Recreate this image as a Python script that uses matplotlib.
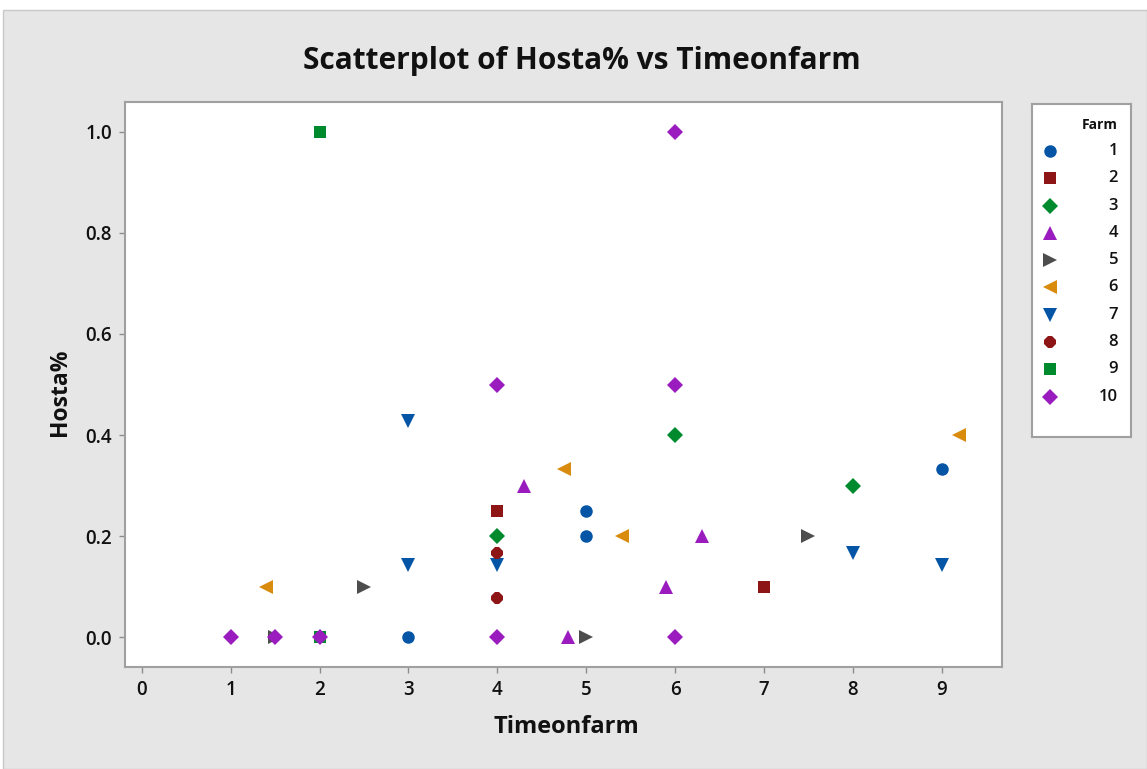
import matplotlib
matplotlib.use("Agg")
import matplotlib.pyplot as plt
from matplotlib.patches import Rectangle

plt.rcParams['font.family'] = ['Open Sans', 'DejaVu Sans']

farms = ["1", "2", "3", "4", "5", "6", "7", "8", "9", "10"]
farm_x = {
    "1": [3, 5, 5, 9],
    "2": [4, 7],
    "3": [4, 6, 8],
    "4": [4.3, 4.8, 5.9, 6.3],
    "5": [1.5, 2.5, 5, 7.5],
    "6": [1.4, 4.75, 5.4, 9.2],
    "7": [3, 3, 4, 8, 9],
    "8": [4, 4],
    "9": [2, 2],
    "10": [1, 1.5, 2, 4, 4, 6, 6, 6],
}
farm_y = {
    "1": [0.0, 0.25, 0.2, 0.333],
    "2": [0.25, 0.1],
    "3": [0.2, 0.4, 0.3],
    "4": [0.3, 0.0, 0.1, 0.2],
    "5": [0.0, 0.1, 0.0, 0.2],
    "6": [0.1, 0.333, 0.2, 0.4],
    "7": [0.4286, 0.1429, 0.1429, 0.1667, 0.1429],
    "8": [0.1667, 0.077],
    "9": [1.0, 0.0],
    "10": [0.0, 0.0, 0.0, 0.0, 0.5, 1.0, 0.5, 0.0],
}
markers = {"1": "o", "2": "s", "3": "D", "4": "^", "5": ">", "6": "<",
           "7": "v", "8": "8", "9": "s", "10": "D"}
colors = {"1": "#0455A6", "2": "#8E1515", "3": "#008A2E", "4": "#9A1BBE",
          "5": "#4D4D4D", "6": "#D98B0D", "7": "#0455A6", "8": "#8E1515",
          "9": "#008A2E", "10": "#9A1BBE"}
sizes = {"o": 9, "s": 9, "D": 8, "^": 9.5, ">": 9.5, "<": 9.5, "v": 9.5, "8": 9}

x_ticks = list(range(0, 10))
y_ticks = [0.0, 0.2, 0.4, 0.6, 0.8, 1.0]

W, H = 1147, 769
fig = plt.figure(figsize=(W / 100, H / 100), dpi=100, facecolor="white")
fig.patches.append(Rectangle((3 / W, 0), 1 - 3 / W, 1 - 10 / H, transform=fig.transFigure,
                             facecolor="#E6E6E6", edgecolor="#C8C8C8", linewidth=1, zorder=-10))

ax = fig.add_axes([125 / W, 1 - 667 / H, (1002 - 125) / W, (667 - 102) / H])
ax.set_facecolor("white")
for f in farms:
    m = markers[f]
    ax.plot(farm_x[f], farm_y[f], linestyle="none", marker=m, color=colors[f],
            markersize=sizes[m], markeredgewidth=0, zorder=3)

ax.set_xlim(-0.19, 9.68)
ax.set_ylim(-0.059, 1.059)
ax.set_xticks(x_ticks)
ax.set_yticks(y_ticks)
ax.set_yticklabels([f"{v:.1f}" for v in y_ticks])
ax.tick_params(axis="both", direction="out", length=4.5, width=1, color="#8C8C8C",
               labelsize=13.5, labelcolor="#111111", pad=5)
for lbl in ax.get_xticklabels() + ax.get_yticklabels():
    lbl.set_fontweight("semibold")
for s in ax.spines.values():
    s.set_color("#A0A0A0")
    s.set_linewidth(1.5)

fig.text(582 / W, 1 - 61 / H, "Scatterplot of Hosta% vs Timeonfarm", ha="center", va="center",
         fontsize=21.5, fontweight="bold", color="#111111")
fig.text(566 / W, 1 - 727 / H, "Timeonfarm", ha="center", va="center",
         fontsize=17, fontweight="bold", color="#111111")
fig.text(60 / W, 1 - 392 / H, "Hosta%", ha="center", va="center", rotation=90,
         fontsize=16.5, fontweight="bold", color="#111111")

# legend
lax = fig.add_axes([1032 / W, 1 - 437 / H, 99 / W, 333 / H])
lax.set_facecolor("white")
lax.set_xlim(0, 99)
lax.set_ylim(333, 0)
lax.set_xticks([])
lax.set_yticks([])
for s in lax.spines.values():
    s.set_color("#A0A0A0")
    s.set_linewidth(1.5)
lax.text(86, 21, "Farm", ha="right", va="center", fontsize=10, fontweight="bold", color="#111111")
for i, f in enumerate(farms):
    yy = 47 + i * 27.3
    m = markers[f]
    lax.plot([18], [yy], linestyle="none", marker=m, color=colors[f],
             markersize=sizes[m], markeredgewidth=0, clip_on=False)
    lax.text(86, yy, f, ha="right", va="center", fontsize=12, fontweight="semibold",
             color="#111111")

fig.savefig("out.png", dpi=100, facecolor=fig.get_facecolor())
